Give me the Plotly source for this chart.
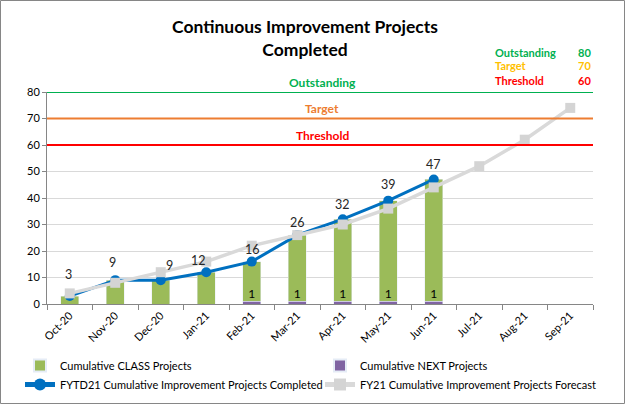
import plotly.graph_objects as go

months = ['Oct-20', 'Nov-20', 'Dec-20', 'Jan-21', 'Feb-21', 'Mar-21',
          'Apr-21', 'May-21', 'Jun-21', 'Jul-21', 'Aug-21', 'Sep-21']
class_projects = [3, 9, 9, 12, 15, 25, 31, 38, 46, None, None, None]
next_projects = [0, 0, 0, 0, 1, 1, 1, 1, 1, None, None, None]
fytd_completed = [3, 9, 9, 12, 16, 26, 32, 39, 47, None, None, None]
fy21_forecast = [4, 8, 12, 16, 22, 26, 30, 36, 44, 52, 62, 74]

level_names = ['Outstanding', 'Target', 'Threshold']
level_values = [80, 70, 60]
level_colors = ['#00B050', '#ED7D31', '#FF0000']
level_text_colors = ['#00B050', '#FFC000', '#FF0000']

FONT = 'Lato'
W, H = 625, 404
ML, MR, MT, MB = 47, 32, 92, 100
PW, PH = W - ML - MR, H - MT - MB

def px_x(p):
    return (p - ML) / PW

def px_y(p):
    return (H - MB - p) / PH

fig = go.Figure()

fig.add_trace(go.Bar(
    x=months, y=next_projects, name='Cumulative NEXT Projects',
    marker=dict(color='#8064A2'), width=0.39, legend='legend2', legendrank=1,
    hoverinfo='skip'))
fig.add_trace(go.Bar(
    x=months, y=class_projects, name='Cumulative CLASS Projects',
    marker=dict(color='#9BBB59'), width=0.39, legend='legend', legendrank=1,
    hoverinfo='skip'))

# NEXT labels
next_labels = [str(v) if v else '' for v in next_projects]
fig.add_trace(go.Scatter(
    x=months, y=next_projects, mode='text', text=next_labels,
    textposition='top center', textfont=dict(family=FONT, size=12, color='#000000'),
    showlegend=False, hoverinfo='skip'))

fig.add_trace(go.Scatter(
    x=months, y=fytd_completed, mode='lines+markers',
    name='FYTD21 Cumulative Improvement Projects Completed',
    line=dict(color='#0070C0', width=3),
    marker=dict(symbol='circle', size=10, color='#0070C0'),
    legend='legend', legendrank=2, hoverinfo='skip'))

fig.add_trace(go.Scatter(
    x=months, y=fy21_forecast, mode='lines+markers',
    name='FY21 Cumulative Improvement Projects Forecast',
    line=dict(color='#D9D9D9', width=3.5),
    marker=dict(symbol='square', size=10, color='#D4D4D4'),
    legend='legend2', legendrank=2, hoverinfo='skip'))

shapes = []
annotations = []

# FYTD data labels (per-point offsets in pixels)
label_dx = [-1, -3, 9, -8, 1, 0, 0, 0, 0]
label_dy = [22, 18, 15, 12, 12, 13, 15, 16, 15]
for m, v, dx, dy in zip(months, fytd_completed, label_dx, label_dy):
    if v is None:
        continue
    annotations.append(dict(text=str(v), x=m, y=v, xref='x', yref='y',
                            xshift=dx, yshift=dy, showarrow=False,
                            font=dict(family=FONT, size=12.5, color='#262626')))

for name, val, col, tcol, i in zip(level_names, level_values, level_colors,
                                   level_text_colors, range(3)):
    shapes.append(dict(type='line', xref='paper', yref='y', x0=0, x1=1,
                       y0=val, y1=val, line=dict(color=col, width=2), layer='above'))
    annotations.append(dict(text='<b>%s</b>' % name, xref='paper', yref='y',
                            x=px_x(322), y=val, yshift=10, showarrow=False,
                            font=dict(family=FONT, size=12, color=col)))
    ty = 52 + i * 14
    annotations.append(dict(text='<b>%s</b>' % name, xref='paper', yref='paper',
                            x=px_x(493), y=px_y(ty), xanchor='left', yanchor='middle',
                            showarrow=False, font=dict(family=FONT, size=11, color=tcol)))
    annotations.append(dict(text='<b>%d</b>' % val, xref='paper', yref='paper',
                            x=px_x(593), y=px_y(ty), xanchor='right', yanchor='middle',
                            showarrow=False, font=dict(family=FONT, size=11, color=tcol)))

# chart border
shapes.append(dict(type='rect', xref='paper', yref='paper',
                   x0=px_x(0.5), x1=px_x(W - 0.5), y0=px_y(H - 0.5), y1=px_y(0.5),
                   line=dict(color='#868686', width=1), layer='below'))

legend_common = dict(orientation='v', xanchor='left', yanchor='top',
                     traceorder='normal', font=dict(family=FONT, size=11, color='#000000'),
                     itemsizing='constant', tracegroupgap=0, bgcolor='rgba(0,0,0,0)',
                     itemwidth=30)

fig.update_layout(
    width=W, height=H, autosize=False,
    margin=dict(l=ML, r=MR, t=MT, b=MB, pad=0, autoexpand=False),
    paper_bgcolor='white', plot_bgcolor='white',
    barmode='stack', bargap=0.6,
    font=dict(family=FONT, size=11, color='#000000'),
    title=dict(text='<b>Continuous Improvement Projects<br>Completed</b>',
               x=305 / W, xanchor='center', y=1 - 33 / H, yanchor='middle',
               font=dict(family=FONT, size=17.5, color='#000000')),
    showlegend=True,
    legend=dict(x=px_x(20), y=px_y(351), **legend_common),
    legend2=dict(x=px_x(320), y=px_y(351), **legend_common),
    shapes=shapes, annotations=annotations,
)

fig.update_xaxes(
    type='category', categoryorder='array', categoryarray=months,
    tickangle=-45, tickson='boundaries', ticks='outside', ticklen=5,
    tickcolor='#868686', showline=True, linecolor='#868686', linewidth=1,
    showgrid=False, tickfont=dict(family=FONT, size=11, color='#000000'),
    range=[-0.5, len(months) - 0.5], fixedrange=True)
fig.update_yaxes(
    range=[0, 80], dtick=10, showgrid=True, gridcolor='#D9D9D9', gridwidth=1,
    showline=True, linecolor='#868686', linewidth=1, ticks='outside', ticklen=4,
    tickcolor='#868686', zeroline=False,
    tickfont=dict(family=FONT, size=11, color='#000000'), fixedrange=True)

fig.write_html('out.html')
